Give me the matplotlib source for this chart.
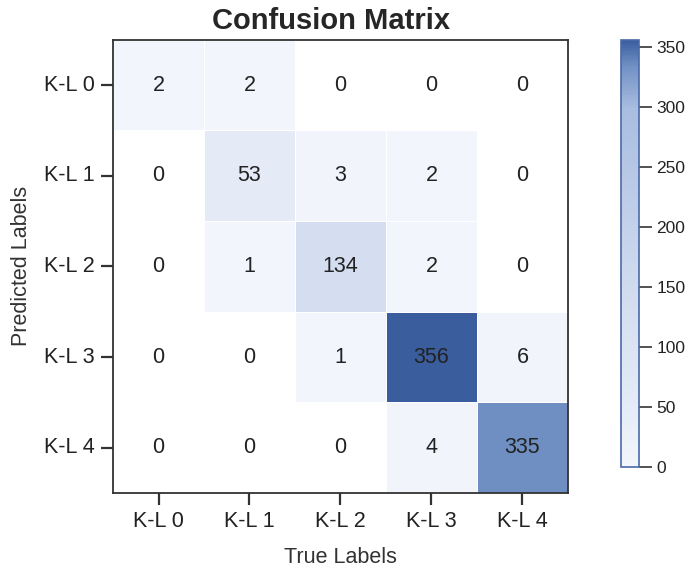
import matplotlib
matplotlib.use('Agg')
import matplotlib.pyplot as plt
import numpy as np
import seaborn as sns
from matplotlib.colors import LinearSegmentedColormap

labels = ['K-L 0', 'K-L 1', 'K-L 2', 'K-L 3', 'K-L 4']
# rows = predicted, cols = true
cm = np.array([
    [2, 2, 0, 0, 0],
    [0, 53, 3, 2, 0],
    [0, 1, 134, 2, 0],
    [0, 0, 1, 356, 6],
    [0, 0, 0, 4, 335],
])

sns.set_style('ticks')
plt.rcParams['font.family'] = ['Liberation Sans', 'DejaVu Sans']

cmap = LinearSegmentedColormap.from_list('cm_blue', [
    (0.0, '#f2f5fb'),
    (0.15, '#e4ebf7'),
    (0.38, '#d4def0'),
    (0.84, '#a9bde0'),
    (0.94, '#7090c4'),
    (1.0, '#3a5d9e'),
])

fig = plt.figure(figsize=(6.85, 5.68), dpi=100)
ax = fig.add_axes([0.165, 0.132, 0.664, 0.798])
cax = fig.add_axes([0.9066, 0.178, 0.0263, 0.752])

# zero cells stay white (masked), numbers are written for every cell below
sns.heatmap(cm, mask=(cm == 0), annot=False, cmap=cmap, vmin=0, vmax=cm.max(),
            linewidths=0.6, linecolor='white', ax=ax, cbar_ax=cax,
            xticklabels=labels, yticklabels=labels)

for i in range(cm.shape[0]):
    for j in range(cm.shape[1]):
        ax.text(j + 0.5, i + 0.5, str(cm[i, j]), ha='center', va='center',
                fontsize=15.5, color='#222222')

for s in ax.spines.values():
    s.set_visible(True)
    s.set_color('#333333')
    s.set_linewidth(1.3)

ax.tick_params(axis='both', length=8.5, width=1.6, color='#333333', labelsize=15.5,
               labelcolor='#222222', pad=4.5)
ax.set_yticklabels(labels, rotation=0)
ax.set_xticklabels(labels, rotation=0)
ax.set_xlabel('True Labels', fontsize=15.5, color='#333333', labelpad=11)
ax.set_ylabel('Predicted Labels', fontsize=15.5, color='#333333', labelpad=9)
ax.set_title('Confusion Matrix', fontsize=21, fontweight='bold', pad=8, x=0.48)

cbar = ax.collections[0].colorbar
cbar.outline.set_visible(True)
cbar.outline.set_edgecolor('#4a6aa8')
cbar.outline.set_linewidth(1.2)
cbar.set_ticks([0, 50, 100, 150, 200, 250, 300, 350])
cax.tick_params(length=9, width=1.2, color='#333333', labelsize=12.5, labelcolor='#222222')

fig.savefig('out.png', dpi=100)
